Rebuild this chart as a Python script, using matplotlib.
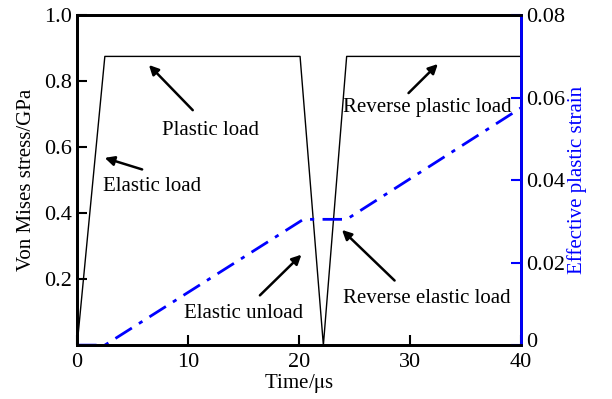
import matplotlib.pyplot as plt
import matplotlib.transforms as mtransforms

plt.rcParams['font.family'] = ['Liberation Serif', 'DejaVu Serif']
plt.rcParams['mathtext.fontset'] = 'stix'

# Von Mises stress (GPa) vs time (us)
t_stress = [0, 2.5, 20.1, 22.2, 24.3, 40]
stress = [0, 0.875, 0.875, 0, 0.875, 0.875]

# Effective plastic strain vs time (us)
t_strain = [0, 2.5, 20.4, 24.3, 40]
strain = [0, 0, 0.0305, 0.0305, 0.0575]

# annotations: text, text pos, arrow tail, arrow head
notes = [
    ("Plastic load", (12.0, 0.65), (10.6, 0.706), (6.3, 0.855)),
    ("Elastic load", (6.8, 0.48), (6.1, 0.53), (2.25, 0.57)),
    ("Elastic unload", (15.0, 0.097), (16.3, 0.145), (20.4, 0.28)),
    ("Reverse elastic load", (31.5, 0.14), (28.8, 0.19), (23.7, 0.355)),
    ("Reverse plastic load", (31.6, 0.72), (29.7, 0.758), (32.7, 0.858)),
]

fs = 15

fig = plt.figure(figsize=(6.12, 3.99), dpi=100)
ax = fig.add_axes([0.126, 0.135, 0.725, 0.827])
ax.plot(t_stress, stress, color='black', lw=1.0)
ax.set_xlim(0, 40)
ax.set_ylim(0, 1.0)
ax.set_xticks([0, 10, 20, 30, 40])
ax.set_yticks([0.2, 0.4, 0.6, 0.8, 1.0])
ax.set_yticklabels(['0.2', '0.4', '0.6', '0.8', '1.0'])
ax.tick_params(direction='in', length=7, width=1.5, labelsize=fs + 1, top=False, right=False)
ax.tick_params(axis='x', pad=6)
ax.set_xlabel('Time/$\\mathrm{\\mu}$s', fontsize=fs, labelpad=0)
ax.set_ylabel('Von Mises stress/GPa', fontsize=fs, labelpad=6)
for s in ax.spines.values():
    s.set_linewidth(2)

ax2 = ax.twinx()
ax2.plot(t_strain, strain, color='blue', lw=2, linestyle=(0, (7, 3, 1.5, 3)))
ax2.set_ylim(0, 0.08)
ax2.set_yticks([0, 0.02, 0.04, 0.06, 0.08])
ax2.set_yticklabels(['0', '0.02', '0.04', '0.06', '0.08'])
ax2.tick_params(direction='in', length=7, width=1.5, labelsize=fs + 1, color='blue')
for s in ax2.spines.values():
    s.set_linewidth(2)
ax2.spines['right'].set_color('blue')
zero_lbl = ax2.get_yticklabels()[0]
zero_lbl.set_transform(zero_lbl.get_transform() +
                       mtransforms.ScaledTranslation(0, 5 / 100, fig.dpi_scale_trans))
ax2.set_ylabel('Effective plastic strain', fontsize=fs, color='blue', labelpad=2)

for txt, pos, tail, head in notes:
    ax.annotate('', xy=head, xytext=tail,
                arrowprops=dict(arrowstyle='-|>', color='black', lw=1.8,
                                mutation_scale=14))
    ax.text(pos[0], pos[1], txt, fontsize=fs, ha='center', va='center')

fig.savefig('out.png', dpi=100)
